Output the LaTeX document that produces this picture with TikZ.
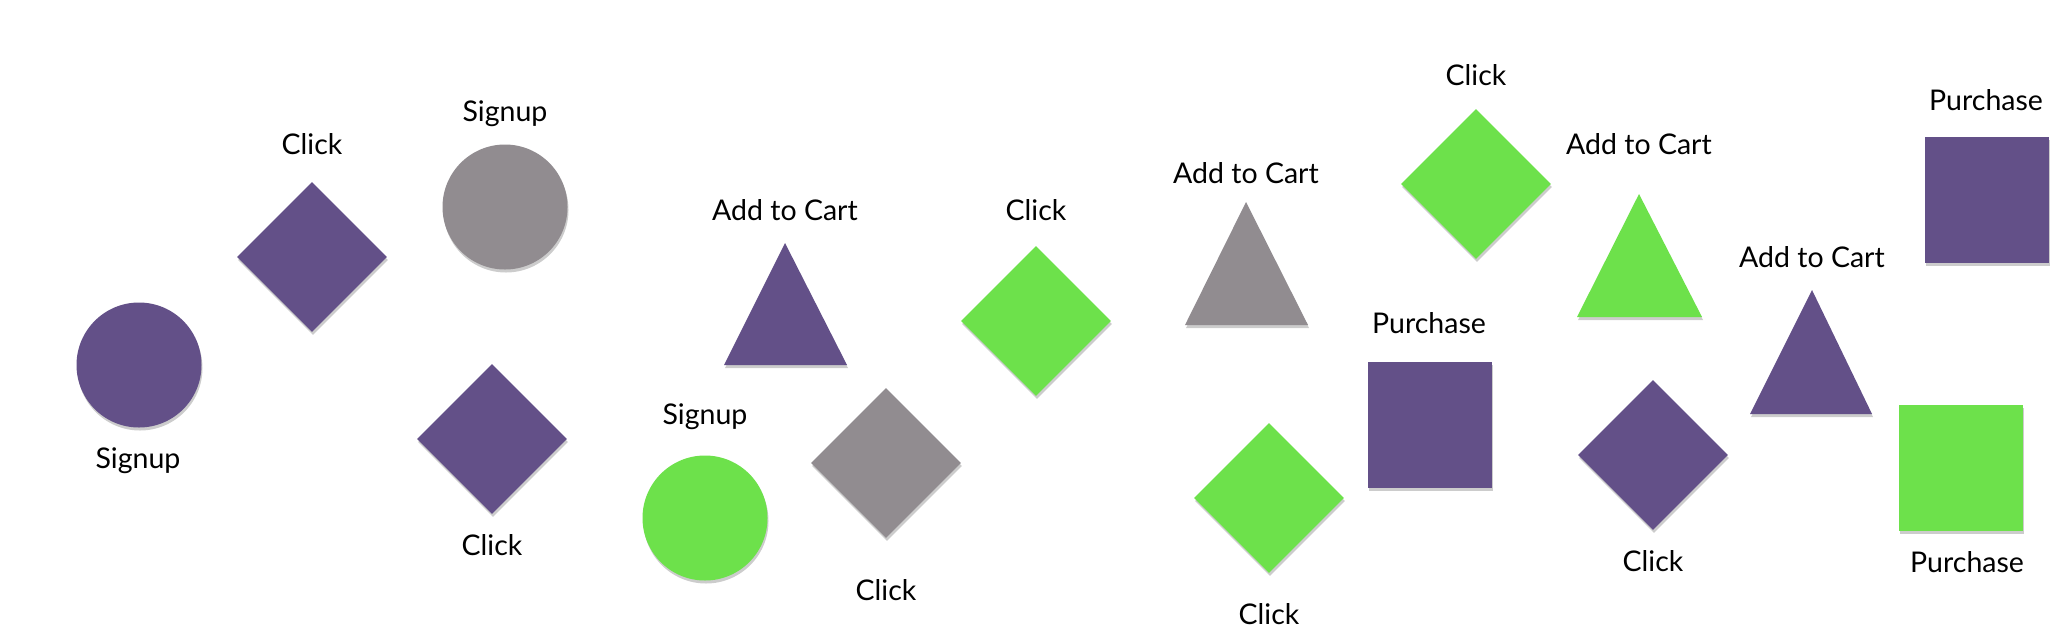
\documentclass[tikz,border=0pt]{standalone}
\usepackage{fontspec}
\setmainfont{Lato}
\usetikzlibrary{shapes.geometric,shadows}
\definecolor{pur}{HTML}{635088}
\definecolor{gry}{HTML}{918C90}
\definecolor{grn}{HTML}{6DE14B}
\tikzset{
  shp/.style={inner sep=0pt, draw=none, drop shadow={shadow xshift=1pt, shadow yshift=-3pt, opacity=0.2, fill=black}},
  circ/.style={shp, circle, minimum size=125pt},
  diam/.style={shp, diamond, minimum width=150pt, minimum height=150pt, aspect=1},
  sq/.style={shp, rectangle, minimum width=124pt, minimum height=126pt},
  lbl/.style={font=\fontsize{28.5}{34}\selectfont, inner sep=0pt, text=black},
  tri/.style={drop shadow={shadow xshift=1pt, shadow yshift=-3pt, opacity=0.2, fill=black}}
}
\begin{document}
\begin{tikzpicture}[x=1pt,y=-1pt]
\useasboundingbox[fill=white] (0,0) rectangle (2056,638);
% shapes
\node[circ, fill=pur] (s1) at (139,365) {};
\node[diam, fill=pur] (s2) at (312,257) {};
\node[circ, fill=gry] (s3) at (505,207) {};
\node[diam, fill=pur] (s4) at (492,439) {};
\fill[pur, tri] (785,243) coordinate (s5) -- (847,365) -- (724,365) -- cycle;
\node[circ, fill=grn] (s6) at (705,518) {};
\node[diam, fill=gry] (s7) at (886,463) {};
\node[diam, fill=grn] (s8) at (1036,321) {};
\fill[gry, tri] (1246,202) coordinate (s9) -- (1308,325) -- (1185,325) -- cycle;
\node[diam, fill=grn] (s10) at (1269,498) {};
\node[sq, fill=pur] (s11) at (1430,424.5) {};
\node[diam, fill=grn] (s12) at (1476,184) {};
\fill[grn, tri] (1639,194) coordinate (s13) -- (1702,317) -- (1577,317) -- cycle;
\node[diam, fill=pur] (s14) at (1653,455) {};
\fill[pur, tri] (1812,290) coordinate (s15) -- (1872,414) -- (1750,414) -- cycle;
\node[sq, fill=pur] (s16) at (1986.5,200) {};
\node[sq, fill=grn] (s17) at (1960.5,468) {};
% labels
\node[lbl] (l1) at (138,461) {Signup};
\node[lbl] (l2) at (312,144) {Click};
\node[lbl] (l3) at (505,114) {Signup};
\node[lbl] (l4) at (492,545) {Click};
\node[lbl] (l5) at (785,210) {Add to Cart};
\node[lbl] (l6) at (705,417) {Signup};
\node[lbl] (l7) at (886,590) {Click};
\node[lbl] (l8) at (1036,210) {Click};
\node[lbl] (l9) at (1246,173) {Add to Cart};
\node[lbl] (l10) at (1269,614) {Click};
\node[lbl] (l11) at (1429,323) {Purchase};
\node[lbl] (l12) at (1476,75) {Click};
\node[lbl] (l13) at (1639,144) {Add to Cart};
\node[lbl] (l14) at (1653,561) {Click};
\node[lbl] (l15) at (1812,257) {Add to Cart};
\node[lbl] (l16) at (1986,100) {Purchase};
\node[lbl] (l17) at (1967,562) {Purchase};
\end{tikzpicture}
\end{document}
